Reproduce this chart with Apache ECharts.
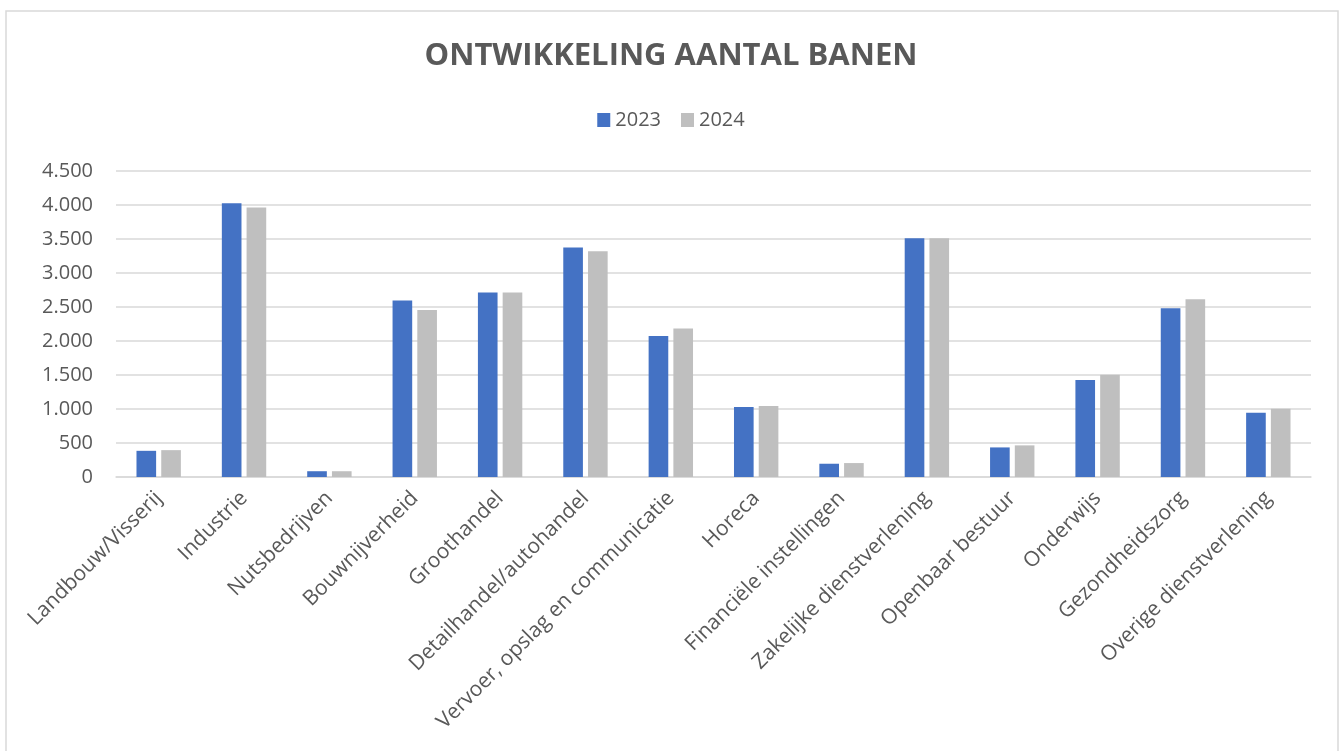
<!DOCTYPE html>
<html>
<head>
<meta charset="utf-8">
<script src="https://cdn.jsdelivr.net/npm/echarts@6/dist/echarts.min.js"></script>
<style>
  html, body { margin: 0; padding: 0; background: #ffffff; }
  #grafiek { width: 1342px; height: 751px; }
</style>
</head>
<body>
<div id="grafiek"></div>
<script>
// sectoren (categorieën)
let sectoren = [
    'Landbouw/Visserij', 'Industrie', 'Nutsbedrijven', 'Bouwnijverheid', 'Groothandel',
    'Detailhandel/autohandel', 'Vervoer, opslag en communicatie', 'Horeca',
    'Financiële instellingen', 'Zakelijke dienstverlening', 'Openbaar bestuur',
    'Onderwijs', 'Gezondheidszorg', 'Overige dienstverlening'
];
// aantal banen per jaar
let banen2023 = [385, 4025, 85, 2595, 2715, 3375, 2075, 1030, 195, 3510, 435, 1425, 2480, 945];
let banen2024 = [395, 3965, 85, 2455, 2715, 3320, 2185, 1045, 205, 3510, 465, 1505, 2615, 1005];

let tekstKleur = '#595959';
let lettertype = '"Open Sans", "Noto Sans", sans-serif';

// getallen met punt als duizendtalscheiding
function formatGetal(v) {
    return String(v).replace(/\B(?=(\d{3})+(?!\d))/g, '.');
}

function toonGrafiek() {
    let grafiek = echarts.init(document.getElementById('grafiek'));
    let option = {
        backgroundColor: '#ffffff',
        textStyle: { fontFamily: lettertype, color: tekstKleur },
        graphic: [{
            type: 'rect',
            shape: { x: 6, y: 11, width: 1332, height: 760 },
            style: { fill: 'none', stroke: '#d9d9d9', lineWidth: 1.5 },
            silent: true
        }],
        title: {
            text: 'ONTWIKKELING AANTAL BANEN',
            left: 'center',
            top: 36,
            textStyle: {
                fontFamily: lettertype,
                fontSize: 31,
                fontWeight: 'bold',
                color: tekstKleur
            }
        },
        legend: {
            data: ['2023', '2024'],
            top: 105,
            left: 'center',
            itemWidth: 13,
            itemHeight: 14,
            itemGap: 20,
            icon: 'rect',
            textStyle: { fontSize: 20, color: tekstKleur, fontFamily: lettertype }
        },
        grid: {
            left: 116,
            right: 31,
            top: 171,
            bottom: 274,
            containLabel: false
        },
        xAxis: {
            type: 'category',
            data: sectoren,
            axisLine: { lineStyle: { color: '#d9d9d9', width: 1.5 } },
            axisTick: { show: false },
            axisLabel: {
                rotate: 45,
                interval: 0,
                margin: 18,
                fontSize: 21,
                color: tekstKleur,
                fontFamily: lettertype
            }
        },
        yAxis: {
            type: 'value',
            min: 0,
            max: 4500,
            interval: 500,
            axisLine: { show: false },
            axisTick: { show: false },
            splitLine: { lineStyle: { color: '#d9d9d9', width: 1.5 } },
            axisLabel: {
                margin: 23,
                fontSize: 20,
                color: tekstKleur,
                fontFamily: lettertype,
                formatter: formatGetal
            }
        },
        series: [
            {
                name: '2023',
                type: 'bar',
                data: banen2023,
                itemStyle: { color: '#4472c4' },
                barGap: '26%',
                barCategoryGap: '48%'
            },
            {
                name: '2024',
                type: 'bar',
                data: banen2024,
                itemStyle: { color: '#bfbfbf' },
                barGap: '26%',
                barCategoryGap: '48%'
            }
        ]
    };
    grafiek.setOption(option);
}

window.onload = function () {
    if (document.getElementById('grafiek')) {
        toonGrafiek();
    } else {
        console.error("Element #grafiek niet gevonden!");
    }
};
</script>
</body>
</html>
